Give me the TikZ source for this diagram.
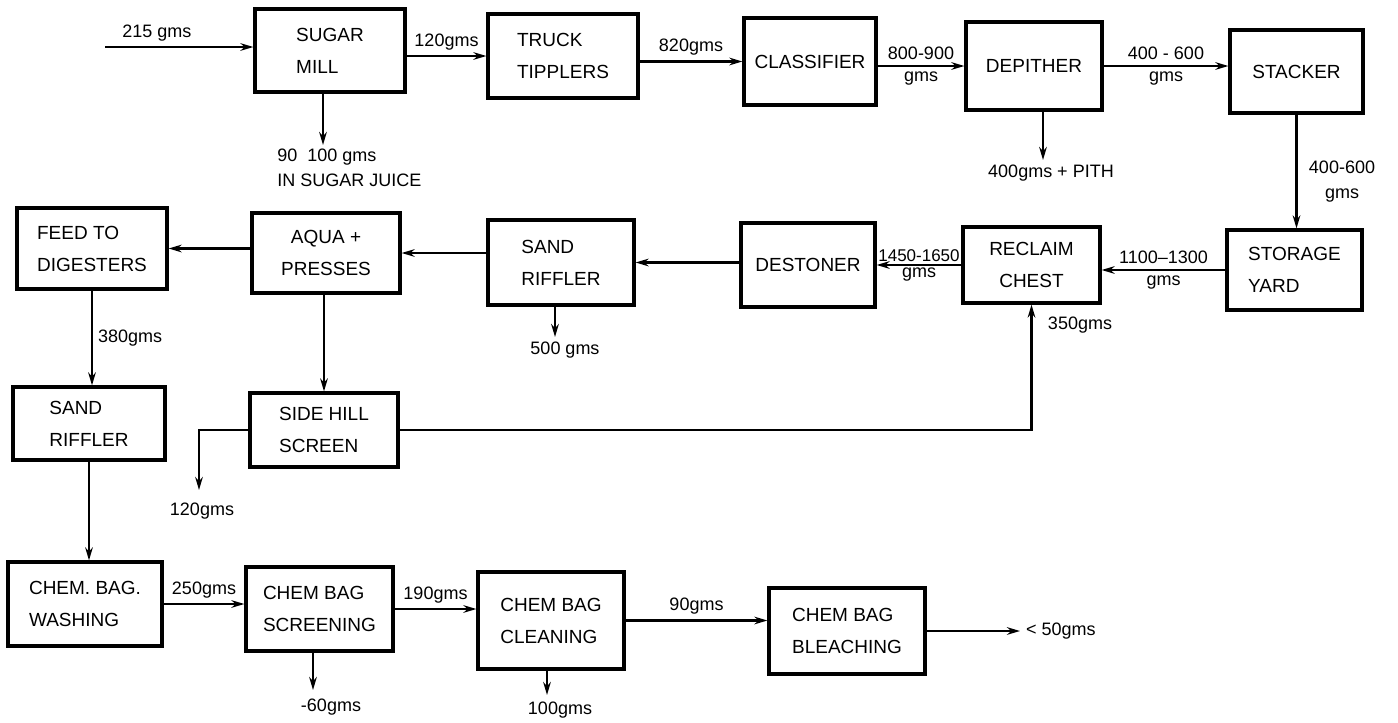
\documentclass[tikz,border=0pt]{standalone}
\usepackage{fontspec}
\setmainfont{Liberation Sans}
\usetikzlibrary{arrows.meta}

\begin{document}
\begin{tikzpicture}[x=0.5pt, y=-0.5pt, >={Stealth[length=6.5pt,width=3.8pt]}]

  % ---------- Styling ----------
  \tikzset{
    unit/.style={draw, line width=1.6pt, align=left, inner sep=2pt,
      font=\fontsize{9.5}{16}\selectfont},
    flow/.style={draw, line width=1.1pt, ->},
    qty/.style={font=\fontsize{9}{12.5}\selectfont, inner sep=2.5pt}
  }

  \useasboundingbox (0,0) rectangle (1398,723);

  % ---------- Units: top row ----------
  \node[unit, minimum width=75pt, minimum height=41.5pt] (mill) at (330,50.5) {SUGAR\\MILL};
  \node[unit, minimum width=75pt, minimum height=42pt] (tippler) at (563,56) {TRUCK\\TIPPLERS};
  \node[unit, minimum width=66pt, minimum height=43.5pt] (classifier) at (810,61.5) {CLASSIFIER};
  \node[unit, minimum width=68pt, minimum height=44pt] (depither) at (1034,66) {DEPITHER};
  \node[unit, minimum width=66.5pt, minimum height=41.5pt] (stacker) at (1296.5,71.5) {STACKER};

  % ---------- Units: middle rows ----------
  \node[unit, minimum width=67.5pt, minimum height=40pt] (yard) at (1294.5,270) {STORAGE\\YARD};
  \node[unit, minimum width=68.5pt, minimum height=38pt, align=center] (reclaim) at (1031.5,265) {RECLAIM\\CHEST};
  \node[unit, minimum width=67pt, minimum height=42pt] (destoner) at (808,265) {DESTONER};
  \node[unit, minimum width=73pt, minimum height=42.5pt] (riffmid) at (561,262.5) {SAND\\RIFFLER};
  \node[unit, minimum width=74pt, minimum height=40pt, align=center] (aqua) at (326,253) {AQUA +\\PRESSES};
  \node[unit, minimum width=75pt, minimum height=40.5pt] (feed) at (92,248.5) {FEED TO\\DIGESTERS};
  \node[unit, minimum width=76pt, minimum height=36.5pt] (rifflft) at (89,423.5) {SAND\\RIFFLER};
  \node[unit, minimum width=74pt, minimum height=37pt] (sidehill) at (324,430) {SIDE HILL\\SCREEN};

  % ---------- Units: bottom row ----------
  \node[unit, minimum width=77pt, minimum height=42pt] (washing) at (85,604) {CHEM. BAG.\\WASHING};
  \node[unit, minimum width=73.5pt, minimum height=42pt] (screening) at (319.5,609) {CHEM BAG\\SCREENING};
  \node[unit, minimum width=73pt, minimum height=48.5pt] (cleaning) at (551,620.5) {CHEM BAG\\CLEANING};
  \node[unit, minimum width=78pt, minimum height=43pt] (bleaching) at (847,631) {CHEM BAG\\BLEACHING};

  % ---------- Free ends ----------
  \coordinate (feedin) at (105,47);
  \coordinate (juice) at (323,145);
  \coordinate (pith) at (1043,160);
  \coordinate (grit) at (555,337);
  \coordinate (fines) at (199,490);
  \coordinate (rejscr) at (313,690);
  \coordinate (rejcln) at (547,695);
  \coordinate (bleachout) at (1020,631);

  % ---------- Top row flows ----------
  \draw[flow] (feedin) -- (feedin -| mill.west) node[qty, pos=0.35, above] {215 gms};
  \draw[flow] (mill.east |- tippler) -- (tippler.west) node[qty, midway, above] {120gms};
  \draw[flow] (tippler.east |- classifier) -- (classifier.west) node[qty, midway, above] {820gms};
  \draw[flow] (classifier.east |- depither) -- (depither.west)
    node[qty, midway, above] {800-900} node[qty, midway, below] {gms};
  \draw[flow] (depither.east) -- (depither.east -| stacker.west)
    node[qty, midway, above] {400 - 600} node[qty, midway, below] {gms};
  \draw[flow] (juice |- mill.south) -- (juice);
  \draw[flow] (pith |- depither.south) -- (pith);
  \draw[flow] (stacker.south) -- (stacker.south |- yard.north);

  \node[qty, align=left, anchor=north west] (juicelbl) at (272,144) {90\ \ 100 gms\\IN SUGAR JUICE};
  \node[qty, anchor=north] (pithlbl) at (1051,160) {400gms + PITH};
  \node[qty, align=center] (stacklbl) at (1342,182) {400-600\\gms};

  % ---------- Return flows ----------
  \draw[flow] (yard.west) -- (yard.west -| reclaim.east)
    node[qty, midway, above] {1100--1300} node[qty, midway, below] {gms};
  \draw[flow] (reclaim.west) -- (reclaim.west -| destoner.east)
    node[qty, midway, above, inner sep=1pt, font=\fontsize{8.5}{12}\selectfont] {1450-1650}
    node[qty, midway, below, inner sep=1pt] {gms};
  \draw[flow] (destoner.west |- riffmid) -- (riffmid.east);
  \draw[flow] (riffmid.west |- aqua) -- (aqua.east);
  \draw[flow] (aqua.west |- feed) -- (feed.east);
  \draw[flow] (grit |- riffmid.south) -- (grit);
  \node[qty, anchor=north] (gritlbl) at (565,337) {500 gms};

  \draw[flow] (feed.south) -- (feed.south |- rifflft.north) node[qty, midway, right] {380gms};
  \draw[flow] (sidehill.north |- aqua.south) -- (sidehill.north);
  \draw[flow] (sidehill.east) -| (reclaim.south);
  \node[qty] (screenlbl) at (1080,325) {350gms};
  \draw[flow] (sidehill.west) -| (fines);
  \node[qty, anchor=north] (fineslbl) at (202,498) {120gms};

  % ---------- Chemical bag line ----------
  \draw[flow] (rifflft.south) -- (rifflft.south |- washing.north);
  \draw[flow] (washing.east) -- (washing.east -| screening.west) node[qty, midway, above] {250gms};
  \draw[flow] (screening.east) -- (screening.east -| cleaning.west) node[qty, midway, above] {190gms};
  \draw[flow] (cleaning.east) -- (cleaning.east -| bleaching.west) node[qty, midway, above] {90gms};
  \draw[flow] (bleaching.east) -- (bleachout) node[qty, right] {< 50gms};
  \draw[flow] (rejscr |- screening.south) -- (rejscr);
  \draw[flow] (rejcln |- cleaning.south) -- (rejcln);
  \node[qty] (rejscrlbl) at (331,707) {-60gms};
  \node[qty] (rejclnlbl) at (560,710) {100gms};

\end{tikzpicture}
\end{document}
